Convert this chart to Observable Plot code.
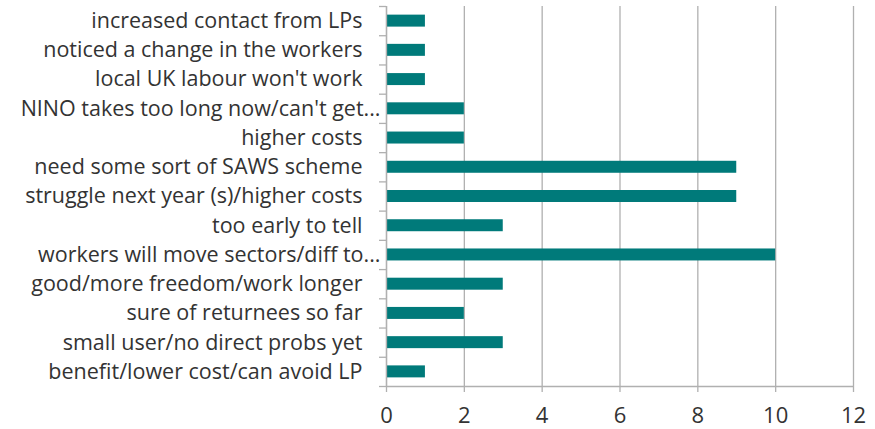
<!DOCTYPE html>
<html>
<head>
<meta charset="utf-8">
<script src="https://cdn.jsdelivr.net/npm/d3@7"></script>
<script src="https://cdn.jsdelivr.net/npm/@observablehq/plot@0.6"></script>
<style>
  html, body { margin: 0; padding: 0; background: #fff; }
  #chart svg { display: block; }
</style>
</head>
<body>
<div id="chart"></div>
<script>
const categories = [
  "increased contact from LPs",
  "noticed a change in the workers",
  "local UK labour won't work",
  "NINO takes too long now/can't get...",
  "higher costs",
  "need some sort of SAWS scheme",
  "struggle next year (s)/higher costs",
  "too early to tell",
  "workers will move sectors/diff to...",
  "good/more freedom/work longer",
  "sure of returnees so far",
  "small user/no direct probs yet",
  "benefit/lower cost/can avoid LP"
];
const values = [1, 1, 1, 2, 2, 9, 9, 3, 10, 3, 2, 3, 1];
const xTicks = [0, 2, 4, 6, 8, 10, 12];

const data = categories.map((c, i) => ({c, v: values[i], i}));
const n = categories.length;
const font = "'Open Sans', sans-serif";
const truncated = d => d.c.endsWith("...");

const chart = Plot.plot({
  width: 875,
  height: 429,
  marginLeft: 386,
  marginRight: 22,
  marginTop: 6,
  marginBottom: 43,
  style: {fontFamily: font, color: "#333", background: "#fff"},
  x: {domain: [0, 12]},
  y: {domain: [0, n], reverse: true},
  marks: [
    Plot.ruleX(xTicks, {stroke: "#b0b0b0", strokeWidth: 1.3}),
    Plot.rectX(data, {x1: 0, x2: "v", y1: d => d.i + 0.295, y2: d => d.i + 0.705, fill: "#007A7A"}),
    Plot.ruleY([n], {stroke: "#b0b0b0", strokeWidth: 1.3}),
    Plot.ruleX([0], {stroke: "#b0b0b0", strokeWidth: 1.3}),
    Plot.axisX({ticks: xTicks, tickSize: 6, tickPadding: 15, fontSize: 22, stroke: "#b0b0b0", strokeWidth: 1.3, label: null, fill: "#333"}),
    Plot.axisY({ticks: d3.range(n + 1), tickSize: 7, tickFormat: () => "", stroke: "#b0b0b0", strokeWidth: 1.3, label: null}),
    Plot.text(data, {filter: d => !truncated(d), x: 0, y: d => d.i + 0.5, text: "c", textAnchor: "end", dx: -24, fontSize: 21.5, fill: "#333"}),
    Plot.text(data, {filter: truncated, x: 0, y: d => d.i + 0.5, text: "c", textAnchor: "end", dx: -6, fontSize: 21.5, fill: "#333"})
  ]
});
document.getElementById("chart").appendChild(chart);
</script>
</body>
</html>
